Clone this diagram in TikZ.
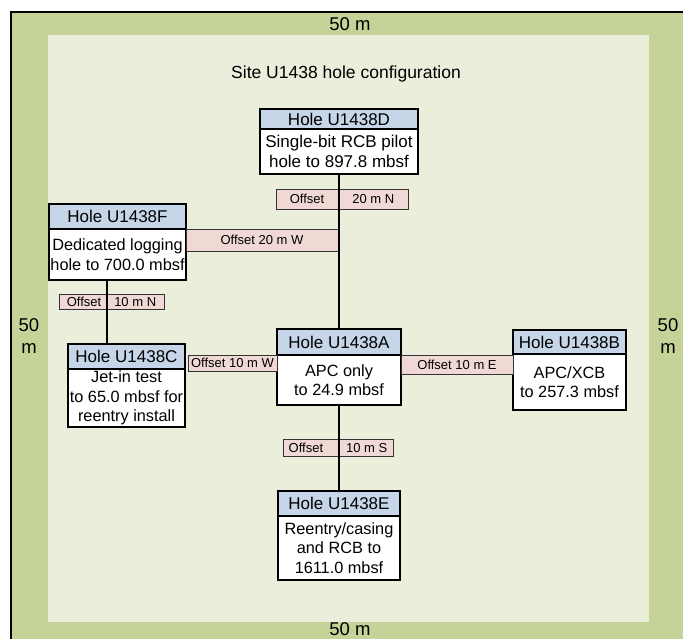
\documentclass[tikz,border=0pt]{standalone}
\usepackage{fontspec}
\setmainfont{Liberation Sans}
\usetikzlibrary{positioning}

\definecolor{siteouter}{RGB}{198,211,152}
\definecolor{siteinner}{RGB}{236,238,220}
\definecolor{holehead}{RGB}{198,213,232}
\definecolor{offfill}{RGB}{240,216,212}

\begin{document}
\begin{tikzpicture}
[x=1pt,y=-1pt,
 every node/.style={inner sep=0pt,outer sep=0pt,font=\fontsize{17}{20}\selectfont},
 head/.style={rectangle,draw=black,line width=2.5pt,fill=holehead},
 body/.style={rectangle,draw=black,line width=2.5pt,fill=white,align=center,font=\fontsize{16.3}{19.5}\selectfont},
 offs/.style={rectangle,draw=black!80,line width=0.9pt,fill=offfill,font=\fontsize{13}{15}\selectfont},
 dim/.style={align=center,font=\fontsize{18.5}{22}\selectfont},
 link/.style={line width=2pt}]

\useasboundingbox (0,0) rectangle (684,639);

% site area
\fill[siteouter] (11,12.5) rectangle (683,639);
\draw[line width=2pt] (11,639) -- (11,12.5) -- (683,12.5);
\fill[siteinner] (48,35) rectangle (649,621.5);

\node[dim] (dimT) at (350,24)  {50 m};
\node[dim] (dimB) at (350,629) {50 m};
\node[dim] (dimL) at (29,336)  {50\\m};
\node[dim] (dimR) at (668,336) {50\\m};
\node[font=\fontsize{17.5}{20}\selectfont] (title) at (346,74) {Site U1438 hole configuration};

% hole A
\node[head,minimum width=124pt,minimum height=26pt] (Ah) at (339,342) {Hole U1438A};
\node[body,minimum width=124pt,minimum height=50pt] (Ab) [below=0pt of Ah] {APC only\\to 24.9 mbsf};

% hole D
\node[head,minimum width=158pt,minimum height=20pt] (Dh) [on grid,above=223pt of Ah] {Hole U1438D};
\node[body,minimum width=158pt,minimum height=45pt,font=\fontsize{17}{20}\selectfont] (Db) [below=0pt of Dh] {Single-bit RCB pilot\\hole to 897.8 mbsf};

% hole E
\node[head,minimum width=122pt,minimum height=25pt] (Eh) [on grid,below=161.5pt of Ah] {Hole U1438E};
\node[body,minimum width=122pt,minimum height=64pt] (Eb) [below=0pt of Eh] {Reentry/casing\\and RCB to\\1611.0 mbsf};

% hole B
\node[head,minimum width=113pt,minimum height=24pt] (Bh) [on grid,right=230.5pt of Ah] {Hole U1438B};
\node[body,minimum width=113pt,minimum height=56pt] (Bb) [below=0pt of Bh] {APC/XCB\\to 257.3 mbsf};

% hole C
\node[head,minimum width=117pt,minimum height=25pt] (Ch) [on grid,below left=14.5pt and 212.5pt of Ah] {Hole U1438C};
\node[body,minimum width=117pt,minimum height=58pt] (Cb) [below=0pt of Ch] {Jet-in test\\to 65.0 mbsf for\\reentry install};

% hole F
\node[head,minimum width=137pt,minimum height=25pt] (Fh) [on grid,above left=125.5pt and 221.5pt of Ah] {Hole U1438F};
\node[body,minimum width=137pt,minimum height=51pt] (Fb) [below=0pt of Fh] {Dedicated logging\\hole to 700.0 mbsf};

% offsets
\node[offs,minimum width=132pt,minimum height=20pt] (Odn) at (342,199)   {Offset\hspace{28pt}20 m N};
\node[offs,minimum width=110pt,minimum height=17pt] (Oas) at (338,447.5) {Offset\hspace{23pt}10 m S};
\node[offs,minimum width=105pt,minimum height=15pt] (Ofn) at (111.5,301.5) {Offset\hspace{13pt}10 m N};
\node[offs,minimum width=152pt,minimum height=22pt,anchor=north west] (Ofw) at (Fb.north east) {Offset 20 m W};
\node[offs,minimum width=89pt,minimum height=16pt,anchor=north east]  (Ocw) at (Ab.north west) {Offset 10 m W};
\node[offs,minimum width=112pt,minimum height=19pt,anchor=north west] (Oae) at (Ab.north east) {Offset 10 m E};

% links
\coordinate (fcx) at (107,0);
\path[link] (Db.south) edge (Ah.north);
\path[link] (Ab.south) edge (Eh.north);
\draw[link] (Fb.south -| fcx) -- (Ch.north -| fcx);

\end{tikzpicture}
\end{document}
